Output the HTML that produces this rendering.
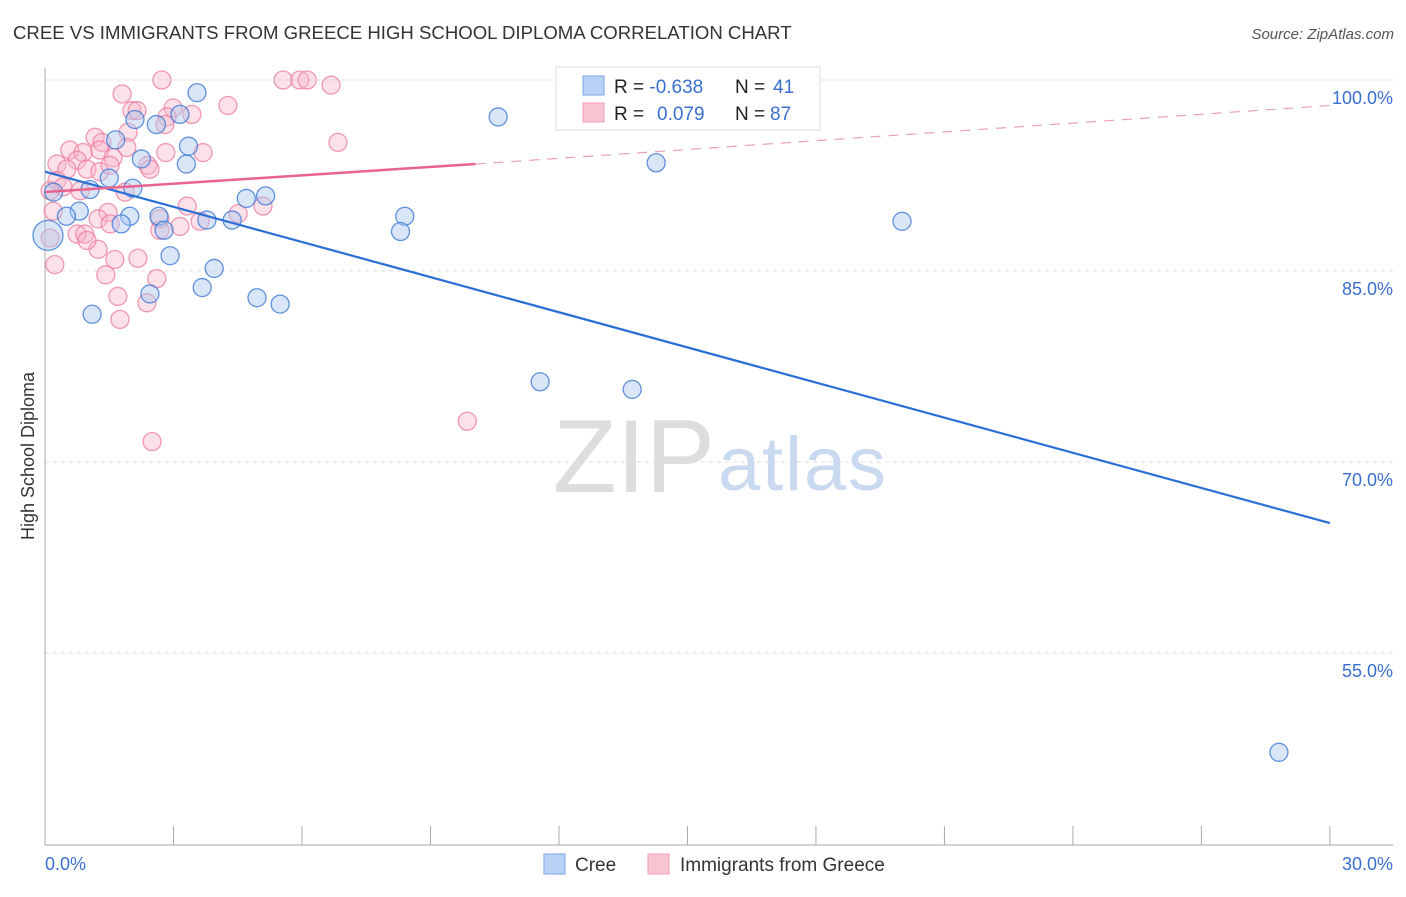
<!DOCTYPE html>
<html><head><meta charset="utf-8"><style>
body{margin:0;background:#fff;font-family:"Liberation Sans",sans-serif;}
svg text{font-family:"Liberation Sans",sans-serif;}
</style></head><body>
<svg width="1406" height="892" viewBox="0 0 1406 892">
<text x="13" y="39" font-size="18.6" fill="#333">CREE VS IMMIGRANTS FROM GREECE HIGH SCHOOL DIPLOMA CORRELATION CHART</text>
<text x="1394" y="39" font-size="15" fill="#555" font-style="italic" text-anchor="end">Source: ZipAtlas.com</text>
<g id="grid"></g>
<g>
<text x="553" y="492" font-size="104" fill="#ddd" font-family="Liberation Serif,serif" textLength="162">ZIP</text>
<text x="718" y="490" font-size="76" fill="#c9d9ef" textLength="168">atlas</text>
</g>
<line x1="45" y1="68" x2="45" y2="845" stroke="#aaa"/>
<line x1="45" y1="845" x2="1393" y2="845" stroke="#aaa"/>
<g id="ticks"></g>
<g id="pts"></g>
<g id="lines"></g>
<text transform="translate(34,456) rotate(-90)" font-size="18" fill="#333" text-anchor="middle">High School Diploma</text>
<text x="45" y="870" font-size="18" fill="#3a6fd0">0.0%</text>
<text x="1393" y="870" font-size="18" fill="#3a6fd0" text-anchor="end">30.0%</text>
<g>
<rect x="556" y="67" width="264" height="63" fill="#fff" stroke="#ddd"/>
<rect x="583" y="76" width="21" height="19" fill="#b9d1f5" stroke="#7aa6e8"/>
<rect x="583" y="103" width="21" height="19" fill="#fac5d3" stroke="#f09ab3"/>
<text x="614" y="93" font-size="19" fill="#222">R = <tspan fill="#3a6fd0">-0.638</tspan><tspan x="735">N = </tspan><tspan x="773" fill="#3a6fd0">41</tspan></text>
<text x="614" y="120" font-size="19" fill="#222">R = <tspan x="657" fill="#3a6fd0">0.079</tspan><tspan x="735">N = </tspan><tspan x="770" fill="#3a6fd0">87</tspan></text>
</g>
<g>
<rect x="544" y="854" width="21" height="20" fill="#b9d1f5" stroke="#7aa6e8"/>
<text x="575" y="871" font-size="19" fill="#333">Cree</text></g>
<g>
<rect x="648" y="854" width="21" height="20" fill="#fac5d3" stroke="#f09ab3"/>
<text x="680" y="871" font-size="19" fill="#333">Immigrants from Greece</text></g>
</svg>
<script>
const NS="http://www.w3.org/2000/svg";
const yTicks=[100,85,70,55];
const yTickLabels=["100.0%","85.0%","70.0%","55.0%"];
const xTicks=[0,3,6,9,12,15,18,21,24,27,30];
// Cree [x%, y%]
const creeX=[3.55,3.15,2.1,2.6,1.65,3.35,2.25,3.3,1.5,2.05,1.05,0.2,4.7,5.15,0.8,0.5,1.98,2.66,3.78,4.37,1.78,2.78,8.4,8.3,2.92,3.95,3.67,2.45,4.95,5.49,1.1,10.58,14.27,20.01,11.56,13.71,28.81,0.07];
const creeY=[99.0,97.3,96.9,96.5,95.3,94.8,93.8,93.4,92.3,91.5,91.4,91.2,90.7,90.9,89.7,89.3,89.3,89.3,89.0,89.0,88.7,88.2,89.3,88.1,86.2,85.2,83.7,83.2,82.9,82.4,81.6,97.1,93.5,88.9,76.3,75.7,47.2,87.8];
// Greece [x%, y%]
const grX=[2.73,5.56,5.95,6.12,6.68,1.8,4.27,2.03,2.15,2.99,3.43,2.85,2.8,6.84,1.17,1.33,1.94,1.91,0.58,0.89,0.75,1.28,1.59,2.82,3.69,0.28,0.51,0.98,1.28,1.52,0.28,0.42,0.82,1.87,2.4,2.45,0.12,0.19,3.32,1.47,1.24,1.52,2.68,2.68,3.15,3.62,4.51,5.09,0.75,0.93,0.12,0.23,1.24,0.98,1.63,1.42,2.17,2.61,1.7,2.38,1.75,9.86,2.5];
const grY=[100,100,100,100,99.6,98.9,98.0,97.6,97.6,97.8,97.3,97.1,96.5,95.1,95.5,95.1,95.9,94.7,94.5,94.3,93.7,94.5,93.9,94.3,94.3,93.4,93.0,93.0,92.8,93.3,92.1,91.6,91.3,91.2,93.3,93.0,91.3,89.7,90.1,89.6,89.1,88.7,89.1,88.2,88.5,88.9,89.5,90.1,87.9,87.9,87.6,85.5,86.7,87.4,85.9,84.7,86.0,84.4,83.0,82.5,81.2,73.2,71.6];
const creeLine=[[0,92.8],[30,65.2]];
const grLineSolid=[[0,91.2],[10.05,93.4]];
const grLineEnd=[30,98.0];
const X=v=>45+v*42.83, Y=v=>80+(100-v)*12.733;
const grid=document.getElementById('grid'),ticks=document.getElementById('ticks');
yTicks.forEach((t,i)=>{
 const l=document.createElementNS(NS,'line');l.setAttribute('x1',45);l.setAttribute('x2',1393);l.setAttribute('y1',Y(t));l.setAttribute('y2',Y(t));
 l.setAttribute('stroke','#ddd');l.setAttribute('stroke-dasharray','4,4');
 
 grid.appendChild(l);
 const tx=document.createElementNS(NS,'text');tx.setAttribute('x',1393);tx.setAttribute('y',Y(t)+24);tx.setAttribute('text-anchor','end');
 tx.setAttribute('font-size','18');tx.setAttribute('fill','#3a6fd0');tx.textContent=yTickLabels[i];
 
 grid.appendChild(tx);
});
xTicks.forEach(t=>{
 const l=document.createElementNS(NS,'line');l.setAttribute('x1',X(t));l.setAttribute('x2',X(t));l.setAttribute('y1',826);l.setAttribute('y2',845);l.setAttribute('stroke','#aaa');
 
 ticks.appendChild(l);
});
const pts=document.getElementById('pts');
function dot(x,y,fill,stroke,r,name){
 const c=document.createElementNS(NS,'circle');c.setAttribute('cx',X(x));c.setAttribute('cy',Y(y));c.setAttribute('r',r);
 c.setAttribute('fill',fill);c.setAttribute('stroke',stroke);c.setAttribute('stroke-width','1.3');
 
 pts.appendChild(c);
}
grX.forEach((x,i)=>dot(x,grY[i],'rgba(248,180,200,0.4)','rgba(236,120,155,0.75)',9,'greece-point'));
creeX.forEach((x,i)=>dot(x,creeY[i],'rgba(170,200,240,0.45)','rgba(60,120,215,0.8)',i==creeX.length-1?15:9,'cree-point'));
const lines=document.getElementById('lines');
function ln(a,b,col,w,dash,name){
 const l=document.createElementNS(NS,'line');l.setAttribute('x1',X(a[0]));l.setAttribute('y1',Y(a[1]));l.setAttribute('x2',X(b[0]));l.setAttribute('y2',Y(b[1]));
 l.setAttribute('stroke',col);l.setAttribute('stroke-width',w);if(dash)l.setAttribute('stroke-dasharray',dash);
 
 lines.appendChild(l);
}
ln(creeLine[0],creeLine[1],'#2a6fd6',2.2,null,'cree-trend-line');
ln(grLineSolid[0],grLineSolid[1],'#e8648e',2.5,null,'greece-trend-line');
ln(grLineSolid[1],grLineEnd,'#e8a0b5',1.2,'10,8','greece-trend-extension');
</script>
</body></html>
